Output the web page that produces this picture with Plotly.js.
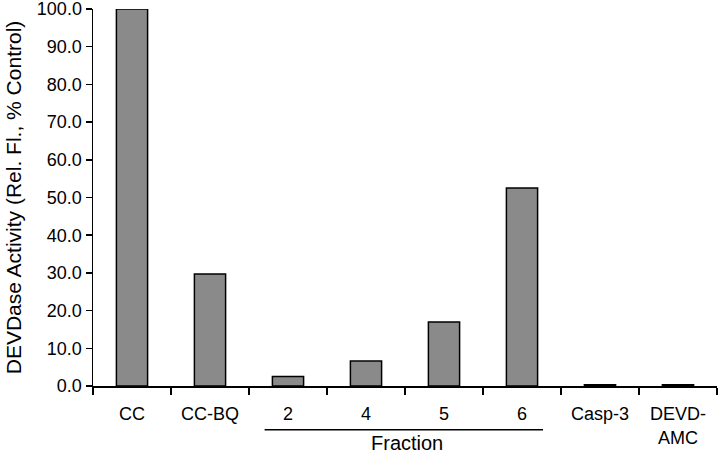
<!DOCTYPE html>
<html>
<head>
<meta charset="utf-8">
<script src="https://cdn.plot.ly/plotly-3.0.1.min.js"></script>
<style>
  html, body { margin: 0; padding: 0; background: #fff; }
  #chart { width: 720px; height: 455px; }
</style>
</head>
<body>
<div id="chart"></div>
<script>
// DEVDase activity per sample, % of control
const categories = ["CC", "CC-BQ", "2", "4", "5", "6", "Casp-3", "DEVD-AMC"];
const tickLabels = ["CC", "CC-BQ", "2", "4", "5", "6", "Casp-3", "DEVD-<br>AMC"];
const activity = [100.0, 29.7, 2.5, 6.6, 17.0, 52.5, 0.3, 0.3];
const yTicks = [0, 10, 20, 30, 40, 50, 60, 70, 80, 90, 100];

const font = { family: "Liberation Sans, Arial, sans-serif", color: "#000", size: 18 };

const trace = {
  x: categories,
  y: activity,
  type: "bar",
  marker: { color: "#8a8a8a", line: { color: "#000", width: 1.5 } },
  hoverinfo: "x+y"
};

const layout = {
  width: 720,
  height: 455,
  margin: { l: 93, r: 3, t: 9, b: 69 },
  paper_bgcolor: "#fff",
  plot_bgcolor: "#fff",
  font: font,
  showlegend: false,
  bargap: 0.6,
  xaxis: {
    type: "category",
    tickvals: categories,
    ticktext: tickLabels,
    ticks: "outside",
    tickson: "boundaries",
    ticklen: 7,
    tickwidth: 1.5,
    tickcolor: "#000",
    showline: true,
    linecolor: "#000",
    linewidth: 1.5,
    showgrid: false,
    zeroline: false,
    tickfont: { size: 18 },
    ticklabelstandoff: 11
  },
  yaxis: {
    range: [0, 100],
    tickvals: yTicks,
    ticktext: yTicks.map(v => v.toFixed(1)),
    ticks: "outside",
    ticklen: 6,
    tickwidth: 1.5,
    tickcolor: "#000",
    showline: true,
    linecolor: "#000",
    linewidth: 1.5,
    showgrid: false,
    zeroline: false,
    tickfont: { size: 18 },
    ticklabeloverflow: "allow",
    title: { text: "DEVDase Activity (Rel. Fl., % Control)", font: { size: 21 }, standoff: 9 }
  },
  // bracket under the fraction lanes
  shapes: [{
    type: "line", xref: "x", yref: "paper",
    x0: 1.7, x1: 5.27, y0: -0.116, y1: -0.116,
    line: { color: "#000", width: 1.5 }
  }],
  annotations: [{
    text: "Fraction", xref: "x", yref: "paper",
    x: 3.53, y: -0.152, xanchor: "center", yanchor: "middle",
    showarrow: false, font: { size: 20 }
  }]
};

Plotly.newPlot("chart", [trace], layout, { displayModeBar: false, staticPlot: true });
</script>
</body>
</html>
